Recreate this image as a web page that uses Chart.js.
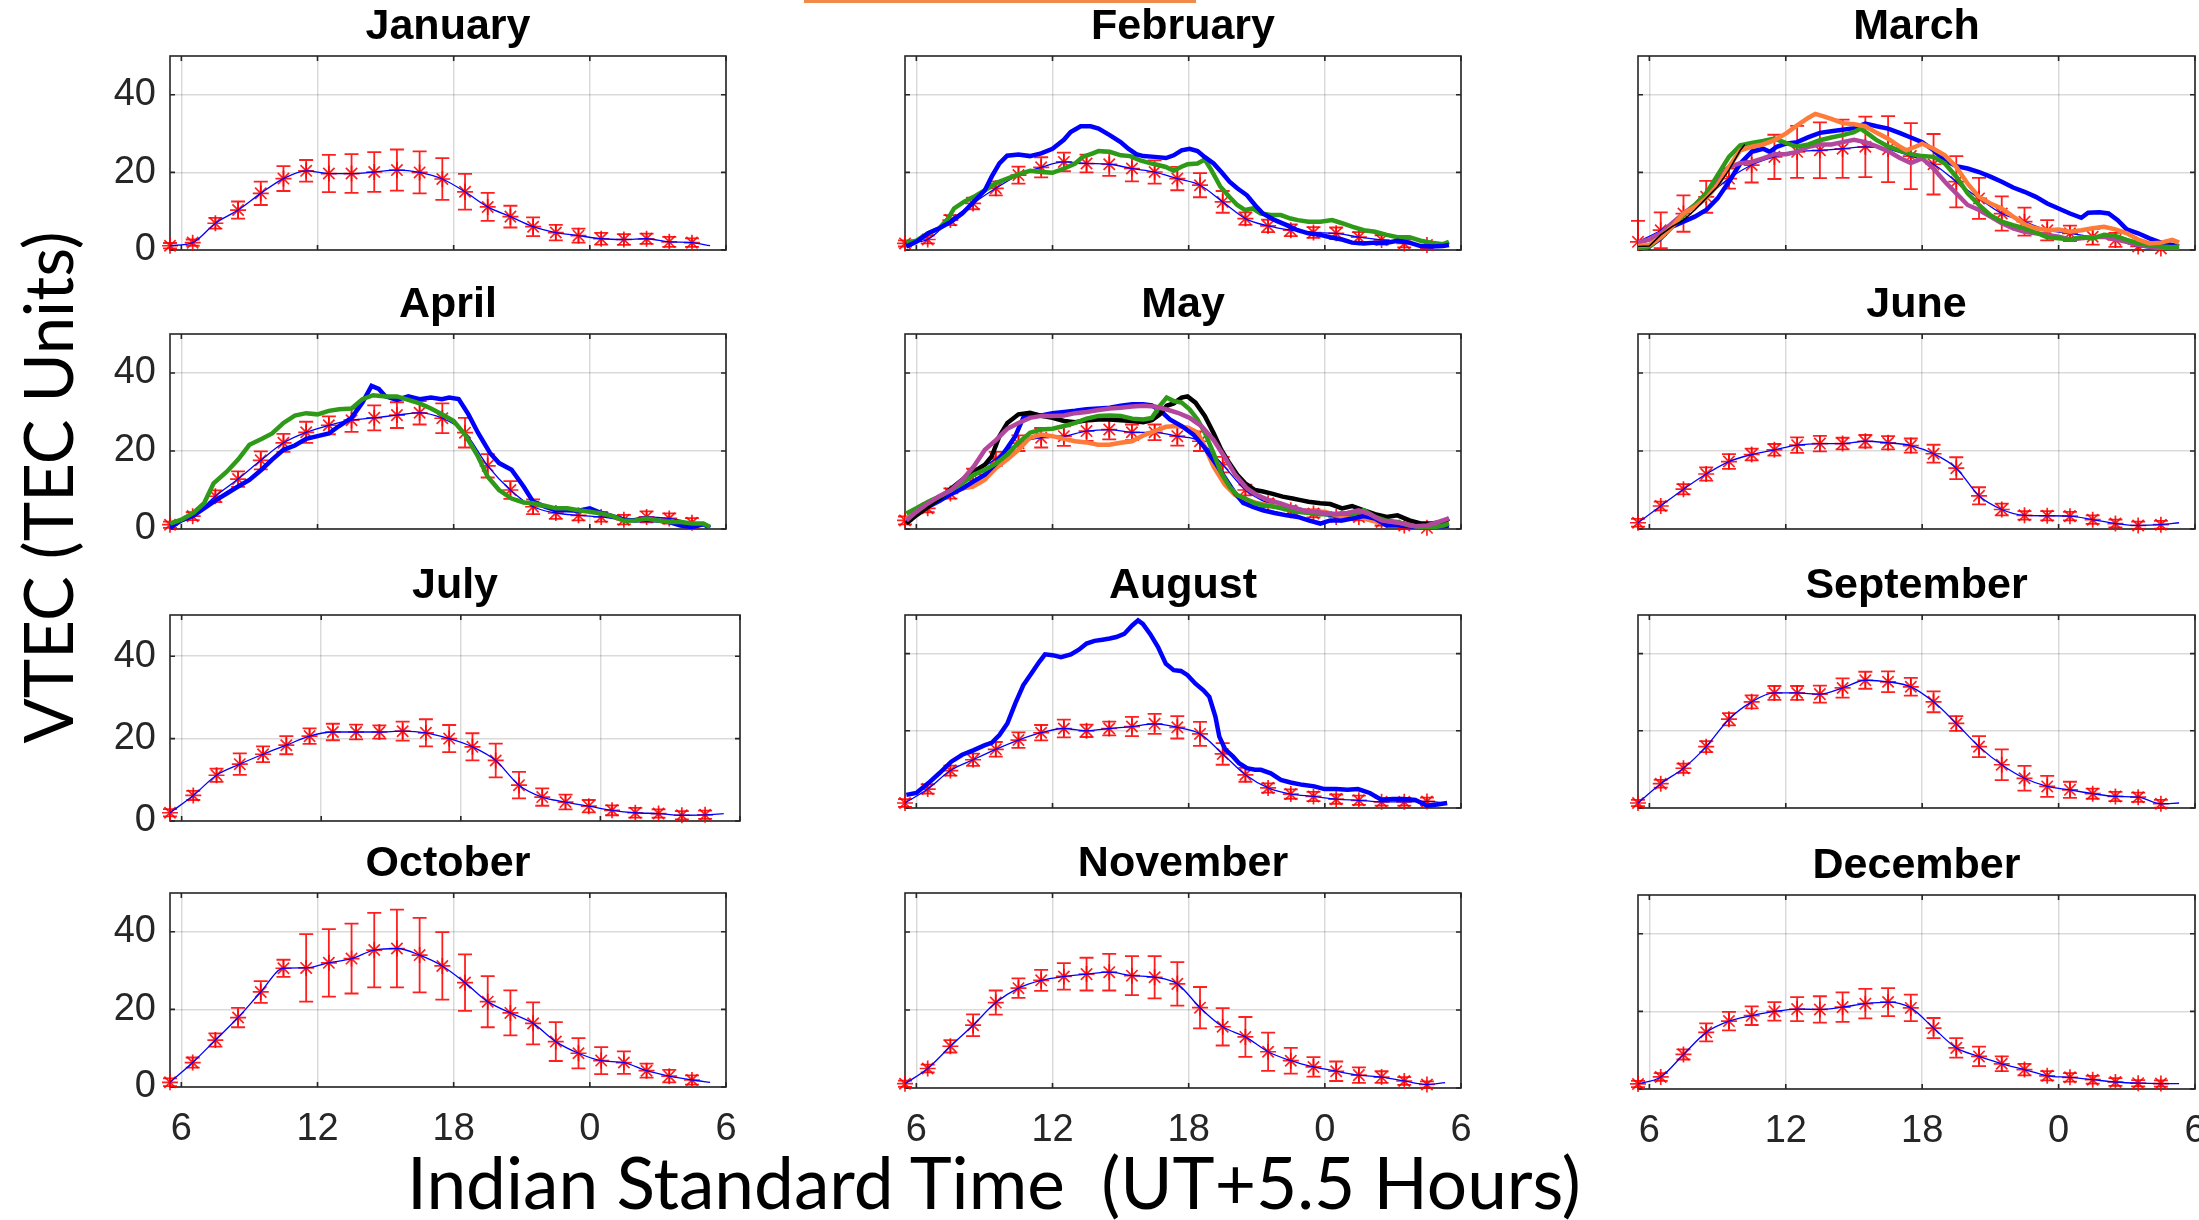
<!DOCTYPE html>
<html>
<head>
<meta charset="utf-8">
<script src="https://cdn.jsdelivr.net/npm/chart.js@4.4.1/dist/chart.umd.min.js"></script>
<style>
html, body { margin: 0; padding: 0; background: #fff; width: 2199px; height: 1220px; overflow: hidden; }
canvas { position: absolute; }
.lbl { position: absolute; font-family: Lato, sans-serif; color: #000; white-space: nowrap; line-height: 1; }
#topline { position: absolute; left: 804px; top: 0; width: 392px; height: 3px; background: #f0894a; }
</style>
</head>
<body>
<div id="topline"></div>
<div class="lbl" id="ylabel">VTEC (TEC Units)</div>
<div class="lbl" id="xlabel">Indian Standard Time&nbsp;&nbsp;(UT+5.5 Hours)</div>
<script>
// hourly bins (IST), mean + std of VTEC per month
const hours = [5.5, 6.5, 7.5, 8.5, 9.5, 10.5, 11.5, 12.5, 13.5, 14.5, 15.5, 16.5, 17.5, 18.5, 19.5, 20.5, 21.5, 22.5, 23.5, 24.5, 25.5, 26.5, 27.5, 28.5];
const lineEndHour = 29.3;
const xTicks = [6, 12, 18, 24, 30];
const yTicks = [0, 20, 40];

const janMean = [1.1, 1.9, 6.9, 10.3, 14.6, 18.4, 20.4, 19.7, 19.7, 20.1, 20.6, 20.0, 18.3, 15.0, 11.1, 8.6, 6.0, 4.5, 3.7, 2.9, 2.7, 2.9, 2.1, 1.9];
const janErr = [0.7, 0.8, 1.4, 2.2, 3.0, 3.2, 2.8, 4.8, 5.0, 5.1, 5.3, 5.4, 5.4, 4.6, 3.6, 2.8, 2.4, 2.0, 1.8, 1.5, 1.4, 1.3, 1.3, 1.1];
const janEnd = 1.1;

const febMean = [1.7, 2.7, 7.7, 12.0, 15.9, 19.3, 21.3, 22.7, 22.3, 22.1, 21.0, 20.1, 18.4, 16.7, 12.4, 8.1, 6.2, 5.1, 4.5, 4.3, 3.3, 2.6, 1.7, 1.3];
const febErr = [0.8, 1.0, 1.3, 1.5, 1.8, 2.2, 2.6, 2.4, 2.3, 3.0, 3.3, 3.0, 3.0, 3.1, 2.8, 1.6, 1.6, 1.5, 1.4, 1.5, 1.3, 1.2, 1.0, 0.8];
const febEnd = 1.0;

const marMean = [2.1, 5.1, 9.4, 13.7, 18.4, 21.9, 24.0, 25.3, 25.7, 26.1, 26.6, 26.0, 24.2, 22.1, 17.6, 13.3, 9.4, 7.3, 5.1, 4.3, 3.4, 2.6, 0.9, 0.4];
const marErr = [5.4, 4.6, 4.7, 4.1, 2.6, 4.5, 5.7, 6.7, 7.2, 7.5, 7.8, 8.5, 8.5, 7.8, 6.6, 5.3, 4.4, 3.6, 2.6, 2.0, 2.0, 1.8, 1.5, 1.0];
const marEnd = 0.6;

const aprMean = [1.1, 3.3, 8.4, 12.8, 17.6, 22.1, 24.8, 26.6, 27.9, 28.5, 29.2, 29.8, 28.4, 24.7, 16.2, 10.0, 5.7, 4.1, 3.5, 3.1, 2.4, 3.1, 2.7, 1.6];
const aprErr = [0.8, 1.0, 1.5, 2.0, 2.3, 2.3, 2.7, 2.3, 3.0, 3.2, 3.3, 3.0, 3.8, 3.8, 3.0, 2.3, 1.9, 1.5, 1.3, 1.2, 1.2, 1.4, 1.3, 1.2];
const aprEnd = 0.7;

const mayMean = [2.2, 5.3, 9.1, 14.0, 18.0, 22.0, 23.4, 23.8, 25.1, 25.5, 24.8, 24.8, 23.8, 22.5, 16.5, 10.0, 6.6, 4.8, 4.0, 3.1, 3.1, 1.8, 0.9, 0.3];
const mayErr = [1.0, 1.0, 1.3, 1.5, 1.8, 2.0, 2.5, 2.5, 2.5, 2.5, 2.0, 2.0, 2.4, 2.5, 2.0, 1.4, 1.0, 1.0, 1.0, 0.9, 0.9, 0.9, 0.8, 0.7];
const mayEnd = 2.2;

const junMean = [1.6, 5.9, 10.2, 14.1, 17.3, 19.1, 20.3, 21.5, 21.9, 21.9, 22.5, 22.1, 21.4, 19.3, 15.6, 8.5, 5.0, 3.5, 3.4, 3.3, 2.4, 1.4, 0.9, 1.1];
const junErr = [1.0, 1.1, 1.3, 1.7, 1.9, 1.5, 1.5, 2.0, 2.0, 1.5, 1.6, 1.7, 1.8, 2.3, 2.8, 2.2, 1.5, 1.1, 1.2, 1.1, 1.1, 1.0, 1.0, 1.0];
const junEnd = 1.6;

const julMean = [2.0, 6.2, 11.1, 13.8, 16.2, 18.4, 20.6, 21.6, 21.6, 21.6, 21.8, 21.4, 20.0, 18.0, 14.7, 8.7, 5.8, 4.6, 3.6, 2.6, 2.0, 1.8, 1.4, 1.5];
const julErr = [0.9, 1.1, 1.6, 2.6, 1.9, 2.2, 1.9, 2.0, 1.8, 1.6, 2.3, 3.3, 3.3, 3.3, 4.1, 3.2, 2.1, 1.8, 1.5, 1.2, 1.2, 1.0, 1.0, 1.0];
const julEnd = 1.8;

const augMean = [1.3, 4.9, 9.7, 12.5, 15.2, 17.6, 19.5, 20.6, 20.0, 20.6, 21.1, 21.8, 20.9, 19.2, 14.0, 8.6, 5.2, 3.6, 3.0, 2.3, 2.0, 1.6, 1.6, 1.7];
const augErr = [1.0, 1.2, 1.3, 1.6, 1.9, 2.0, 2.0, 2.3, 1.6, 1.8, 2.5, 2.6, 2.9, 3.1, 2.8, 1.8, 1.2, 1.2, 1.2, 1.2, 1.2, 1.0, 1.0, 1.0];
const augEnd = 1.3;

const sepMean = [1.3, 6.3, 10.3, 15.9, 23.0, 27.5, 29.8, 29.8, 29.5, 31.1, 33.1, 32.7, 31.4, 27.5, 21.9, 15.9, 11.2, 7.7, 5.6, 4.7, 3.7, 3.0, 2.8, 1.1];
const sepErr = [0.8, 1.0, 1.2, 1.4, 1.6, 1.7, 1.8, 1.8, 2.2, 2.5, 2.2, 2.7, 2.3, 2.7, 1.9, 2.7, 4.0, 3.2, 2.7, 2.1, 1.3, 1.2, 1.2, 1.0];
const sepEnd = 1.3;

const octMean = [1.2, 6.3, 12.1, 17.9, 24.5, 30.6, 30.7, 32.0, 33.1, 35.3, 35.7, 34.0, 31.2, 26.9, 22.0, 19.1, 16.4, 11.7, 8.7, 6.8, 6.3, 4.2, 2.8, 1.8];
const octErr = [1.0, 1.3, 1.7, 2.5, 2.8, 2.2, 8.7, 8.7, 9.0, 9.6, 10.0, 9.6, 8.7, 7.3, 6.6, 5.8, 5.4, 5.0, 3.9, 3.5, 2.9, 1.8, 1.6, 1.2];
const octEnd = 1.2;

const novMean = [1.1, 5.0, 10.7, 16.1, 21.9, 25.6, 27.6, 28.6, 29.2, 29.7, 28.8, 28.4, 26.7, 20.6, 15.7, 13.1, 9.3, 7.0, 5.4, 4.3, 3.3, 2.8, 1.8, 0.9];
const novErr = [0.8, 1.0, 1.6, 2.8, 3.1, 2.5, 2.7, 3.4, 4.2, 4.7, 5.0, 5.4, 5.6, 5.3, 4.8, 5.1, 4.9, 3.3, 2.5, 2.5, 2.0, 1.5, 1.0, 0.8];
const novEnd = 1.4;

const decMean = [1.3, 3.1, 8.9, 14.6, 17.5, 18.9, 20.0, 20.6, 20.5, 21.1, 22.0, 22.4, 20.9, 15.7, 10.6, 8.4, 6.5, 5.0, 3.4, 3.0, 2.4, 1.8, 1.5, 1.4];
const decErr = [0.8, 1.0, 1.3, 2.3, 2.4, 2.4, 2.4, 3.1, 3.4, 3.8, 3.8, 3.6, 3.4, 2.6, 2.5, 2.5, 1.9, 1.5, 1.2, 1.1, 1.0, 1.0, 0.8, 0.8];
const decEnd = 1.4;

// individual storm days, [hour, VTEC]
const febBlue = [[5.56,0.9],[6.0,2.1],[6.52,4.3],[7.01,5.6],[7.54,7.3],[8.02,9.4],[8.53,12.4],[9.02,15.4],[9.32,18.9],[9.66,22.3],[10.0,24.3],[10.5,24.6],[11.0,24.2],[11.5,24.9],[12.0,26.1],[12.5,28.4],[12.8,30.4],[13.24,31.9],[13.68,31.9],[14.03,31.3],[14.52,29.6],[15.0,27.8],[15.34,26.1],[15.69,24.7],[16.0,24.2],[16.5,24.0],[17.0,23.7],[17.34,24.4],[17.69,25.7],[18.04,26.1],[18.39,25.5],[18.7,24.0],[19.1,22.3],[19.44,20.1],[19.8,17.6],[20.14,15.9],[20.57,14.1],[20.92,11.6],[21.27,9.4],[21.8,7.7],[22.32,6.4],[22.8,5.1],[23.28,4.3],[23.8,3.9],[24.24,3.3],[24.76,2.7],[25.2,1.9],[25.72,1.7],[26.2,1.9],[26.73,1.9],[27.2,2.4],[27.73,1.9],[28.22,1.0],[28.7,0.9],[29.2,1.0],[29.47,1.3]];
const febGreen = [[5.56,1.9],[6.0,2.4],[6.52,4.3],[7.01,5.6],[7.4,8.1],[7.66,10.7],[8.09,12.4],[8.53,13.7],[9.02,15.4],[9.53,17.3],[10.01,18.4],[10.5,19.5],[11.01,20.4],[11.51,20.1],[12.0,19.9],[12.51,21.0],[13.0,22.3],[13.33,24.0],[13.77,24.9],[14.03,25.5],[14.52,25.3],[15.01,24.4],[15.42,24.2],[15.86,23.1],[16.3,22.4],[16.65,21.9],[16.99,21.4],[17.34,20.4],[17.66,21.4],[17.95,22.1],[18.39,22.3],[18.71,23.3],[19.0,20.6],[19.4,16.3],[19.79,13.7],[20.14,11.6],[20.49,10.3],[20.83,10.7],[21.18,9.4],[21.62,9.0],[22.06,9.0],[22.49,8.1],[22.81,7.7],[23.28,7.3],[23.8,7.3],[24.32,7.7],[24.76,6.9],[25.2,6.0],[25.72,5.1],[26.21,4.7],[26.73,3.9],[27.2,3.3],[27.73,3.3],[28.22,2.4],[28.69,1.9],[29.21,1.5],[29.47,2.1]];

const marBlue = [[5.5,0.7],[6.0,0.9],[6.5,3.0],[7.0,6.0],[7.5,7.3],[8.0,8.6],[8.5,10.3],[9.0,13.3],[9.5,17.6],[10.0,22.3],[10.5,25.3],[11.0,26.1],[11.3,25.3],[11.6,26.6],[12.0,27.4],[12.5,27.8],[13.0,29.1],[13.5,30.2],[14.0,30.6],[14.5,31.0],[15.0,31.4],[15.5,32.6],[16.0,31.9],[16.5,31.3],[17.0,30.2],[17.5,29.0],[18.0,27.8],[18.5,25.7],[19.0,23.1],[19.5,21.6],[20.0,21.0],[20.5,20.1],[21.0,18.9],[21.5,17.6],[22.0,16.1],[22.5,15.0],[23.0,13.7],[23.5,12.0],[24.0,10.7],[24.5,9.4],[25.0,8.3],[25.3,9.6],[25.8,9.7],[26.2,9.4],[26.6,7.7],[27.0,5.3],[27.5,4.3],[28.0,3.0],[28.5,1.9],[29.0,1.3],[29.3,0.9]];
const marGreen = [[5.5,0.4],[6.0,0.9],[6.5,3.3],[7.0,6.0],[7.5,9.0],[8.0,11.6],[8.5,14.6],[9.0,19.3],[9.5,24.0],[10.0,27.0],[10.5,27.6],[11.0,28.1],[11.5,28.7],[12.0,27.6],[12.5,26.6],[13.0,27.2],[13.5,28.3],[14.0,29.0],[14.5,29.6],[15.0,30.4],[15.3,31.3],[15.7,29.6],[16.0,28.3],[16.5,26.7],[17.0,25.7],[17.5,24.7],[18.0,24.2],[18.5,24.0],[19.0,22.3],[19.5,18.9],[20.0,14.6],[20.5,11.6],[21.0,9.0],[21.5,7.3],[22.0,6.4],[22.5,5.6],[23.0,4.5],[23.5,3.3],[24.0,3.0],[24.5,2.7],[25.0,3.3],[25.5,3.0],[26.0,3.9],[26.5,3.6],[27.0,2.6],[27.5,1.7],[28.0,1.3],[28.5,0.9],[29.0,0.7],[29.3,0.9]];
const marOrange = [[5.5,1.0],[6.0,1.3],[6.5,3.3],[7.0,6.0],[7.5,9.4],[8.0,11.1],[8.5,13.3],[9.0,16.7],[9.5,21.4],[10.0,25.7],[10.5,26.6],[11.0,27.2],[11.5,28.3],[12.0,30.0],[12.5,32.1],[13.0,34.1],[13.3,35.1],[13.7,34.4],[14.0,33.8],[14.5,32.7],[15.0,32.4],[15.5,31.9],[16.0,30.2],[16.5,28.7],[17.0,26.7],[17.3,25.7],[17.7,26.6],[18.0,27.4],[18.5,26.1],[19.0,24.4],[19.5,21.4],[20.0,17.1],[20.5,13.7],[21.0,12.0],[21.5,10.7],[22.0,8.6],[22.5,6.7],[23.0,5.6],[23.5,5.1],[24.0,5.3],[24.5,4.7],[25.0,5.1],[25.5,5.6],[26.0,6.0],[26.5,5.3],[27.0,4.3],[27.5,2.7],[28.0,1.7],[28.5,1.9],[29.0,2.6],[29.3,1.9]];
const marMagenta = [[5.5,1.9],[6.0,2.7],[6.5,4.3],[7.0,6.9],[7.5,9.4],[8.0,11.6],[8.5,14.6],[9.0,18.4],[9.5,21.4],[10.0,22.4],[10.5,22.7],[11.0,23.6],[11.5,24.7],[12.0,24.7],[12.5,25.3],[13.0,26.6],[13.5,27.2],[14.0,27.2],[14.5,27.8],[15.0,28.4],[15.5,27.8],[16.0,26.7],[16.5,25.5],[17.0,23.8],[17.5,22.4],[18.0,23.6],[18.5,21.0],[19.0,17.6],[19.5,14.6],[20.0,11.6],[20.5,10.3],[21.0,8.6],[21.5,6.9],[22.0,5.6],[22.5,4.7],[23.0,4.3],[23.5,3.9],[24.0,3.4],[24.5,2.7],[25.0,3.0],[25.5,3.3],[26.0,3.4],[26.5,2.7],[27.0,2.1],[27.5,1.3],[28.0,0.9],[28.5,0.4],[29.0,0.2],[29.3,0.4]];
const marBlack = [[5.5,0.9],[6.0,1.0],[6.5,3.9],[7.0,6.0],[7.5,7.7],[8.0,10.3],[8.5,13.3],[9.0,16.3],[9.5,20.6],[10.0,25.7],[10.2,27.2]];

const aprBlue = [[5.5,0.3],[6.0,2.2],[6.53,3.4],[7.0,5.3],[7.53,7.4],[8.0,9.1],[8.5,10.9],[9.0,12.6],[9.53,15.2],[10.0,17.8],[10.5,20.3],[11.0,21.4],[11.5,23.1],[12.0,23.8],[12.5,24.5],[12.95,26.4],[13.5,28.5],[13.98,32.4],[14.38,36.7],[14.7,35.9],[15.0,34.0],[15.5,33.1],[16.0,34.0],[16.5,33.3],[17.0,33.7],[17.48,33.3],[17.8,33.7],[18.22,33.3],[18.65,29.4],[19.07,24.7],[19.6,19.5],[20.0,16.9],[20.55,15.2],[21.08,10.9],[21.5,7.0],[22.05,5.7],[22.5,4.8],[23.0,4.8],[23.5,4.7],[24.0,5.3],[24.5,4.1],[25.0,3.3],[25.5,2.4],[26.0,2.2],[26.5,2.4],[27.0,2.2],[27.5,1.8],[28.0,0.9],[28.5,0.5],[29.0,1.2],[29.3,0.3]];
const aprGreen = [[5.5,1.4],[6.0,2.4],[6.53,4.1],[7.0,6.6],[7.42,11.7],[8.0,14.7],[8.5,17.8],[9.0,21.6],[9.53,23.1],[10.0,24.5],[10.5,27.2],[11.0,29.1],[11.5,29.7],[12.0,29.4],[12.5,30.3],[12.95,30.7],[13.5,30.9],[13.98,33.3],[14.45,34.3],[15.0,34.0],[15.5,34.0],[16.0,33.1],[16.5,32.2],[17.0,30.9],[17.48,29.4],[18.0,27.7],[18.5,24.2],[19.07,18.6],[19.5,13.4],[20.0,10.0],[20.55,7.8],[21.08,6.8],[21.5,6.6],[22.05,5.9],[22.5,5.3],[23.0,5.3],[23.5,4.8],[24.0,4.4],[24.5,4.0],[25.0,3.3],[25.5,2.1],[26.0,2.2],[26.5,2.7],[27.0,2.2],[27.5,1.8],[28.0,1.8],[28.5,1.4],[29.0,1.4],[29.3,0.5]];

const mayBlack = [[5.56,1.4],[6.0,3.5],[6.52,5.7],[7.01,7.8],[7.54,10.4],[8.02,12.6],[8.53,14.7],[9.02,16.5],[9.32,18.6],[9.66,23.8],[10.01,27.2],[10.5,29.4],[11.01,29.8],[11.51,29.0],[12.0,28.5],[12.51,27.7],[13.0,27.4],[13.5,27.9],[14.03,28.1],[14.52,28.1],[15.01,27.9],[15.51,27.7],[16.0,27.4],[16.38,27.9],[16.73,29.4],[17.03,31.6],[17.34,32.2],[17.69,33.7],[17.95,34.0],[18.3,32.4],[18.71,29.0],[19.09,24.7],[19.44,20.3],[19.79,16.9],[20.14,13.9],[20.49,11.7],[20.92,10.0],[21.27,9.6],[21.71,9.0],[22.14,8.3],[22.58,7.8],[22.93,7.4],[23.28,7.0],[23.8,6.6],[24.24,6.4],[24.76,5.3],[25.2,5.9],[25.72,4.8],[26.21,3.8],[26.73,3.1],[27.2,3.5],[27.73,2.2],[28.22,1.4],[28.69,1.4],[29.21,1.8],[29.47,2.7]];
const mayGreen = [[5.56,4.0],[6.0,5.3],[6.52,7.0],[7.01,8.3],[7.54,10.0],[8.02,11.7],[8.53,13.9],[9.02,15.2],[9.53,16.9],[10.01,19.1],[10.5,22.1],[11.01,24.7],[11.51,25.5],[12.0,25.7],[12.51,26.4],[13.0,27.2],[13.5,28.3],[14.03,29.0],[14.52,29.1],[15.01,29.0],[15.51,28.3],[16.0,28.1],[16.38,28.5],[16.73,31.6],[17.03,33.7],[17.34,32.8],[17.69,32.4],[18.04,30.7],[18.39,28.1],[18.71,24.7],[19.09,19.5],[19.44,14.3],[19.79,10.9],[20.14,8.7],[20.49,7.8],[20.92,6.6],[21.27,6.1],[21.79,5.7],[22.32,5.0],[22.81,4.4],[23.28,4.1],[23.8,3.8],[24.24,3.8],[24.76,4.0],[25.2,3.8],[25.72,4.8],[26.21,3.1],[26.73,2.1],[27.2,1.8],[27.73,0.9],[28.22,0.5],[28.69,0.3],[29.21,0.9],[29.47,1.4]];
const mayBlue = [[5.56,1.6],[6.0,4.0],[6.52,5.7],[7.01,7.2],[7.54,9.0],[8.02,10.4],[8.53,12.2],[9.02,13.9],[9.53,16.9],[10.01,20.8],[10.36,23.8],[10.71,28.5],[11.01,29.4],[11.51,29.1],[12.0,29.7],[12.51,30.0],[13.0,30.3],[13.5,30.7],[14.03,30.9],[14.52,31.1],[15.01,31.6],[15.51,32.0],[16.0,32.0],[16.38,31.7],[16.82,30.0],[17.17,28.1],[17.69,26.4],[18.21,24.2],[18.71,20.8],[19.18,16.9],[19.61,13.0],[20.05,9.1],[20.4,6.7],[20.83,5.7],[21.27,4.8],[21.79,4.1],[22.32,3.5],[22.81,3.1],[23.28,2.2],[23.8,1.4],[24.24,2.2],[24.76,2.2],[25.2,2.7],[25.72,3.3],[26.21,2.7],[26.73,0.9],[27.2,0.9],[27.73,0.7],[28.22,0.3],[28.69,0.5],[29.21,0.7],[29.47,0.9]];
const mayOrange = [[5.5,2.2],[6.0,4.8],[6.5,6.1],[7.0,7.8],[7.5,9.1],[8.0,10.4],[8.5,10.9],[9.0,12.6],[9.5,15.6],[10.0,17.8],[10.5,20.3],[11.0,23.4],[11.5,24.2],[12.0,23.8],[12.5,23.1],[13.0,22.5],[13.5,22.2],[14.0,21.6],[14.5,21.6],[15.0,22.1],[15.5,22.5],[16.0,24.0],[16.5,25.1],[17.0,26.2],[17.5,26.4],[18.0,25.9],[18.4,24.7],[18.7,21.2],[19.1,16.0],[19.6,11.3],[20.05,8.7],[20.57,7.4],[21.0,6.7],[21.5,6.1],[22.0,5.5],[22.5,5.3],[23.0,4.8],[23.5,4.4],[24.0,4.4],[24.5,3.5],[25.0,3.1],[25.5,3.1],[26.0,2.2],[26.5,1.6],[27.0,1.4],[27.5,0.9],[28.0,0.7],[28.5,0.9],[29.0,1.4],[29.47,1.8]];
const mayMagenta = [[5.56,2.2],[6.0,4.4],[6.52,6.6],[7.01,8.4],[7.54,10.0],[8.02,12.6],[8.53,16.0],[9.02,20.3],[9.53,22.9],[10.01,25.7],[10.5,27.2],[11.01,28.5],[11.51,29.0],[12.0,29.0],[12.51,29.1],[13.0,29.7],[13.5,30.0],[14.03,30.5],[14.52,30.9],[15.01,31.1],[15.51,31.4],[16.0,31.6],[16.51,31.4],[16.99,30.7],[17.52,29.8],[18.04,28.5],[18.56,26.4],[19.09,22.9],[19.61,18.2],[20.05,13.9],[20.57,10.4],[21.01,8.7],[21.53,7.4],[22.02,6.6],[22.49,5.7],[23.02,4.8],[23.49,4.4],[23.98,4.1],[24.5,3.8],[24.99,4.1],[25.49,4.8],[25.98,3.8],[26.49,2.2],[26.98,1.8],[27.47,1.4],[27.99,0.7],[28.51,0.9],[29.0,1.8],[29.47,2.7]];

const augBlue = [[5.56,3.4],[6.0,3.9],[6.52,6.4],[7.01,9.0],[7.54,12.0],[8.02,13.8],[8.53,15.0],[9.02,16.3],[9.32,16.9],[9.66,18.9],[10.01,21.9],[10.36,27.1],[10.71,31.8],[11.06,34.8],[11.41,37.8],[11.67,39.8],[12.0,39.6],[12.37,39.1],[12.81,39.8],[13.16,41.0],[13.5,42.6],[13.85,43.3],[14.2,43.6],[14.52,43.9],[14.81,44.3],[15.16,45.1],[15.51,47.3],[15.77,48.6],[15.98,47.7],[16.3,45.1],[16.65,41.7],[16.99,37.4],[17.34,35.7],[17.66,35.5],[17.95,34.4],[18.3,32.2],[18.65,30.5],[18.91,28.8],[19.18,23.6],[19.35,18.5],[19.61,15.2],[19.96,13.3],[20.22,11.6],[20.57,10.3],[20.92,9.9],[21.18,9.9],[21.62,9.0],[22.06,7.3],[22.49,6.6],[23.02,6.0],[23.54,5.6],[23.98,4.9],[24.5,4.9],[24.99,4.7],[25.46,4.9],[25.98,3.9],[26.51,2.1],[26.98,2.3],[27.47,2.3],[27.99,2.1],[28.51,0.6],[28.95,0.9],[29.39,1.3]];

const BLUE = '#0000ff', GREEN = '#2e9a18', ORANGE = '#ff7b3a', MAGENTA = '#b2479d', BLACK = '#000000';
const RED = 'rgba(255,0,0,0.88)';
const GRID = 'rgba(38,38,38,0.17)';
const FONT = "'Liberation Sans', Arial, sans-serif";
const YW = 80, XH = 70, PR = 24, TITLE_H = 54, CAP = 7;

const panels = [
  {title: 'January', box: [170, 56, 726, 250], mean: janMean, err: janErr, end: janEnd, days: [], yl: true},
  {title: 'February', box: [905, 56, 1461, 250], mean: febMean, err: febErr, end: febEnd, days: [[febBlue, BLUE], [febGreen, GREEN]]},
  {title: 'March', box: [1638, 56, 2195, 250], mean: marMean, err: marErr, end: marEnd, days: [[marBlack, BLACK, 1.5], [marOrange, ORANGE], [marGreen, GREEN], [marMagenta, MAGENTA], [marBlue, BLUE]]},
  {title: 'April', box: [170, 334, 726, 529], mean: aprMean, err: aprErr, end: aprEnd, days: [[aprGreen, GREEN], [aprBlue, BLUE]], yl: true},
  {title: 'May', box: [905, 334, 1461, 529], mean: mayMean, err: mayErr, end: mayEnd, days: [[mayMagenta, MAGENTA], [mayGreen, GREEN], [mayBlack, BLACK], [mayBlue, BLUE], [mayOrange, ORANGE]]},
  {title: 'June', box: [1638, 334, 2195, 529], mean: junMean, err: junErr, end: junEnd, days: []},
  {title: 'July', box: [170, 615, 740, 821], mean: julMean, err: julErr, end: julEnd, days: [], yl: true},
  {title: 'August', box: [905, 615, 1461, 808], mean: augMean, err: augErr, end: augEnd, days: [[augBlue, BLUE]]},
  {title: 'September', box: [1638, 615, 2195, 808], mean: sepMean, err: sepErr, end: sepEnd, days: []},
  {title: 'October', box: [170, 893, 726, 1087], mean: octMean, err: octErr, end: octEnd, days: [], yl: true, xl: true},
  {title: 'November', box: [905, 893, 1461, 1088], mean: novMean, err: novErr, end: novEnd, days: [], xl: true},
  {title: 'December', box: [1638, 895, 2195, 1089], mean: decMean, err: decErr, end: decEnd, days: [], xl: true}
];

// axes box with inward ticks, drawn under the data
const frame = {
  id: 'frame',
  beforeDatasetsDraw(chart) {
    const {ctx, chartArea: a, scales: {x, y}} = chart;
    ctx.save();
    ctx.strokeStyle = '#262626';
    ctx.lineWidth = 1.6;
    ctx.strokeRect(a.left, a.top, a.width, a.height);
    ctx.beginPath();
    x.ticks.forEach(t => {
      const px = x.getPixelForValue(t.value);
      ctx.moveTo(px, a.bottom); ctx.lineTo(px, a.bottom - 5);
      ctx.moveTo(px, a.top); ctx.lineTo(px, a.top + 5);
    });
    y.ticks.forEach(t => {
      const py = y.getPixelForValue(t.value);
      ctx.moveTo(a.left, py); ctx.lineTo(a.left + 5, py);
      ctx.moveTo(a.right, py); ctx.lineTo(a.right - 5, py);
    });
    ctx.stroke();
    ctx.restore();
  }
};

const errorBars = {
  id: 'errorBars',
  afterDatasetDraw(chart, args) {
    const ds = chart.data.datasets[args.index];
    if (!ds.errors) return;
    const {ctx, chartArea: a, scales: {x, y}} = chart;
    ctx.save();
    ctx.beginPath();
    ctx.rect(a.left - 20, a.top - 20, a.width + 40, a.height + 21);
    ctx.clip();
    ctx.strokeStyle = RED;
    ctx.lineWidth = 1.8;
    ctx.beginPath();
    ds.data.forEach((pt, i) => {
      const px = x.getPixelForValue(pt.x);
      const top = y.getPixelForValue(pt.y + ds.errors[i]);
      const bot = y.getPixelForValue(pt.y - ds.errors[i]);
      ctx.moveTo(px, top); ctx.lineTo(px, bot);
      ctx.moveTo(px - CAP, top); ctx.lineTo(px + CAP, top);
      ctx.moveTo(px - CAP, bot); ctx.lineTo(px + CAP, bot);
    });
    ctx.stroke();
    ctx.restore();
  }
};

function toPts(xs, ys) { return xs.map((h, i) => ({x: h, y: ys[i]})); }
function fromPairs(arr) { return arr.map(p => ({x: p[0], y: p[1]})); }

function makePanel(p) {
  const [x0, y0, x1, y1] = p.box;
  const c = document.createElement('canvas');
  c.width = (x1 - x0) + YW + PR;
  c.height = TITLE_H + (y1 - y0) + XH;
  c.style.left = (x0 - YW) + 'px';
  c.style.top = (y0 - TITLE_H) + 'px';
  document.body.appendChild(c);

  const datasets = p.days.map(d => ({
    data: fromPairs(d[0]), borderColor: d[1], borderWidth: d[2] || 4.5,
    pointRadius: 0, tension: 0, fill: false
  }));
  datasets.push({
    data: toPts(hours, p.mean).concat([{x: lineEndHour, y: p.end}]),
    borderColor: BLUE, borderWidth: 1.3, pointRadius: 0,
    cubicInterpolationMode: 'monotone', fill: false
  });
  datasets.push({
    data: toPts(hours, p.mean), errors: p.err, showLine: false,
    pointStyle: 'star', pointRadius: 8, borderColor: RED, backgroundColor: RED,
    borderWidth: 1.7, clip: false
  });

  new Chart(c, {
    type: 'line',
    data: {datasets},
    options: {
      responsive: false,
      animation: false,
      events: [],
      layout: {padding: {left: 0, right: PR, top: 0, bottom: 0}, autoPadding: false},
      plugins: {
        legend: {display: false},
        tooltip: {enabled: false},
        title: {
          display: true, text: p.title, fullSize: false, color: '#000',
          font: {family: FONT, size: 43, weight: 'bold', lineHeight: '50px'},
          padding: {top: 0, bottom: 4}
        }
      },
      scales: {
        x: {
          type: 'linear', min: 5.5, max: 30,
          afterBuildTicks: s => { s.ticks = xTicks.map(v => ({value: v})); },
          afterFit: s => { s.height = XH; s.paddingLeft = 0; s.paddingRight = 0; },
          grid: {color: GRID, lineWidth: 1.5, drawTicks: false},
          border: {display: false},
          ticks: {display: !!p.xl, autoSkip: false, maxRotation: 0, padding: 20, color: '#262626',
                  font: {family: FONT, size: 38}, callback: v => String(v % 24)}
        },
        y: {
          min: 0, max: 50,
          afterBuildTicks: s => { s.ticks = yTicks.map(v => ({value: v})); },
          afterFit: s => { s.width = YW; s.paddingTop = 0; s.paddingBottom = 0; },
          grid: {color: GRID, lineWidth: 1.5, drawTicks: false},
          border: {display: false},
          ticks: {display: !!p.yl, padding: 14, color: '#262626',
                  font: {family: FONT, size: 38}}
        }
      }
    },
    plugins: [frame, errorBars]
  });
}

panels.forEach(makePanel);

// big shared axis labels, sized to the reference text width
function fitLabel(el, targetW) {
  el.style.fontSize = '100px';
  const w = el.getBoundingClientRect().width;
  const s = 100 * targetW / w;
  el.style.fontSize = s + 'px';
  return s;
}
const xl = document.getElementById('xlabel');
const xs = fitLabel(xl, 1174);
xl.style.left = (994 - 1174 / 2) + 'px';
xl.style.top = (1209 - 0.887 * xs) + 'px';

const yl = document.getElementById('ylabel');
const ys = fitLabel(yl, 512);
const cx = 73 - 0.387 * ys;
yl.style.left = (cx - 512 / 2) + 'px';
yl.style.top = (487 - ys / 2) + 'px';
yl.style.transform = 'rotate(-90deg)';
</script>
</body>
</html>
